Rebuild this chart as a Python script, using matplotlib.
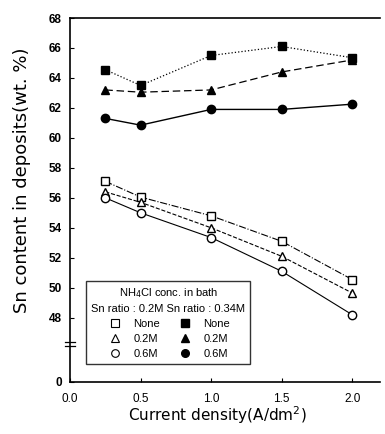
import matplotlib
matplotlib.use('Agg')
import matplotlib.pyplot as plt
from matplotlib.lines import Line2D

# current density (A/dm2)
current = [0.25, 0.5, 1.0, 1.5, 2.0]

# Sn ratio 0.2M (open markers)
open_none = [57.1, 56.05, 54.8, 53.1, 50.55]
open_02 = [56.4, 55.7, 54.0, 52.1, 49.65]
open_06 = [56.0, 55.0, 53.35, 51.1, 48.2]

# Sn ratio 0.34M (filled markers)
fill_none = [64.55, 63.5, 65.5, 66.1, 65.35]
fill_02 = [63.2, 63.05, 63.2, 64.4, 65.2]
fill_06 = [61.3, 60.85, 61.9, 61.9, 62.25]

conc_labels = ['None', '0.2M', '0.6M']
yticks = [48, 50, 52, 54, 56, 58, 60, 62, 64, 66, 68]
y_zero_pos = 43.73   # where the "0" of the broken axis sits

plt.rcParams['font.family'] = ['Liberation Sans', 'DejaVu Sans']

fig = plt.figure(figsize=(3.85, 4.34), dpi=100)
ax = fig.add_axes([0.182, 0.1205, 0.806, 0.838])

ax.plot(current, fill_none, color='k', ls=':', lw=0.9, marker='s', ms=5.5)
ax.plot(current, fill_02, color='k', ls=(0, (6, 3)), lw=0.9, marker='^', ms=6)
ax.plot(current, fill_06, color='k', ls='-', lw=1.0, marker='o', ms=6)

ax.plot(current, open_none, color='k', ls='-.', lw=0.8, marker='s', ms=5.5, mfc='white')
ax.plot(current, open_02, color='k', ls='--', lw=0.8, marker='^', ms=6, mfc='white')
ax.plot(current, open_06, color='k', ls='-', lw=0.8, marker='o', ms=6, mfc='white')

ax.set_xlim(0, 2.2)
ax.set_ylim(y_zero_pos, 68)
ax.set_xticks([0.0, 0.5, 1.0, 1.5, 2.0])
ax.set_xticklabels(['0.0', '0.5', '1.0', '1.5', '2.0'], fontsize=8.5)
ax.set_yticks([y_zero_pos] + yticks)
ax.set_yticklabels(['0'] + [str(t) for t in yticks], fontsize=8.5, fontweight='bold')
ax.tick_params(direction='in', length=3, width=0.8)
ax.tick_params(axis='x', pad=8)
ax.tick_params(axis='y', pad=6)
for s in ax.spines.values():
    s.set_linewidth(1.2)
ax.spines['right'].set_visible(False)

# axis break marks
for yb in (0.097, 0.109):
    ax.plot([-0.015, 0.015], [yb, yb], color='k', lw=0.9, transform=ax.transAxes, clip_on=False)

ax.set_xlabel('Current density(A/dm$^2$)', fontsize=11, family='DejaVu Sans')
ax.set_ylabel('Sn content in deposits(wt. %)', fontsize=13, family='DejaVu Sans')
ax.xaxis.set_label_coords(0.474, -0.062)
ax.yaxis.set_label_coords(-0.125, 0.555)

handles = []
for m in ['s', '^', 'o']:
    handles.append(Line2D([], [], ls='none', marker=m, ms=5.5, color='k', mfc='white', mew=0.8))
for m in ['s', '^', 'o']:
    handles.append(Line2D([], [], ls='none', marker=m, ms=5.5, color='k'))
leg = ax.legend(handles, conc_labels + conc_labels, ncol=2, loc='lower left',
                bbox_to_anchor=(0.045, 0.042), fontsize=8, frameon=True, fancybox=False,
                edgecolor='k', handlelength=1.5, handletextpad=0.9, columnspacing=1.5,
                labelspacing=0.45, borderaxespad=0.2, borderpad=0.45,
                title='NH$_4$Cl conc. in bath\nSn ratio : 0.2M Sn ratio : 0.34M',
                title_fontsize=8)
leg.get_title().set_multialignment('center')
leg.get_title().set_linespacing(1.5)
leg.get_frame().set_linewidth(1.0)

fig.savefig('out.png', dpi=100)
